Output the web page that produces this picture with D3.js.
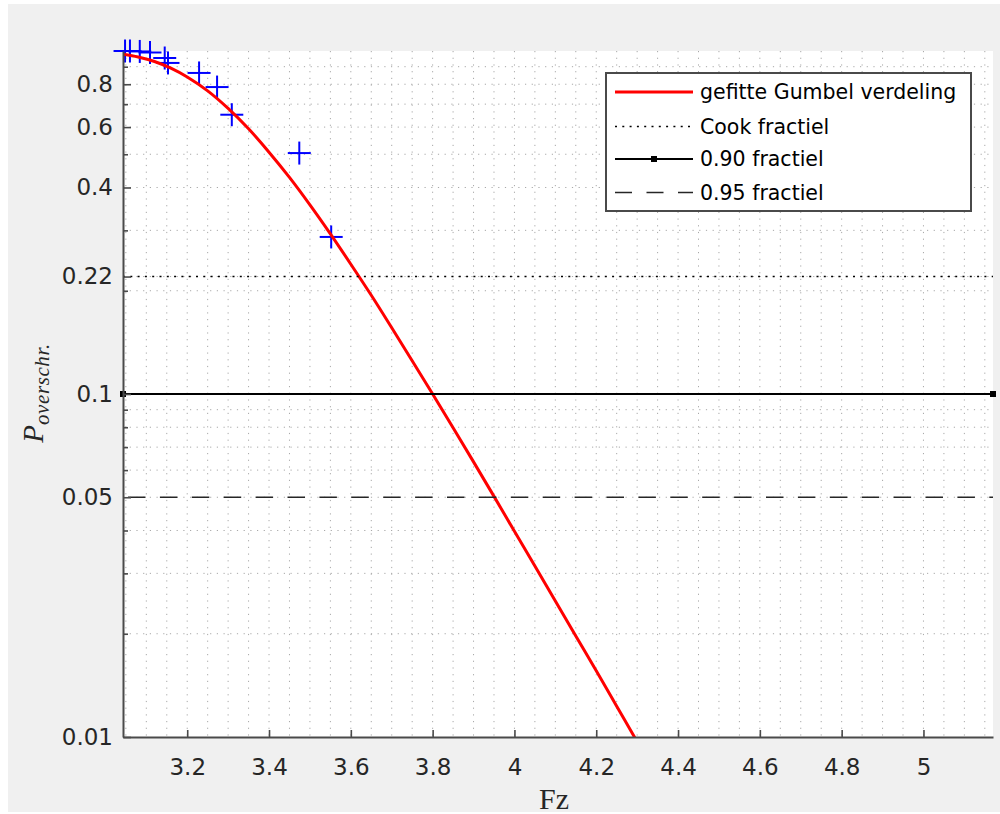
<!DOCTYPE html>
<html>
<head>
<meta charset="utf-8">
<script src="https://cdn.jsdelivr.net/npm/d3@7"></script>
<style>
  html, body { margin: 0; padding: 0; background: #ffffff; }
  svg { display: block; }
</style>
</head>
<body>
<svg id="chart" width="1000" height="814"></svg>
<script>
// Observed maxima (plotted as +)
const obsFz = [3.048, 3.060, 3.084, 3.109, 3.145, 3.153, 3.229, 3.273, 3.309, 3.474, 3.552];
const obsP  = [1.000, 1.000, 0.997, 0.990, 0.954, 0.923, 0.863, 0.785, 0.652, 0.504, 0.287];

// Fitted Gumbel curve (exceedance probability per Fz)
const fitFz = [3.043, 3.08, 3.12, 3.16, 3.20, 3.25, 3.30, 3.35, 3.40, 3.45, 3.50, 3.55, 3.60,
               3.65, 3.70, 3.75, 3.80, 3.85, 3.90, 3.95, 4.00, 4.05, 4.10, 4.15, 4.20, 4.25, 4.30, 4.32];
const fitP  = [0.979, 0.961, 0.932, 0.891, 0.840, 0.765, 0.680, 0.593, 0.507, 0.428, 0.356, 0.293, 0.239,
               0.194, 0.156, 0.125, 0.100, 0.0797, 0.0634, 0.0503, 0.0398, 0.0315, 0.0249, 0.0197, 0.0156, 0.0123, 0.00969, 0.00882];

// Horizontal fractile levels
const levelNames = ["Cook fractiel", "0.90 fractiel", "0.95 fractiel"];
const levelP     = [0.22, 0.1, 0.05];

// Axis limits and ticks
const fzLimits = [3.043, 5.17];
const pLimits  = [0.01, 1];
const fzTicks  = [3.2, 3.4, 3.6, 3.8, 4.0, 4.2, 4.4, 4.6, 4.8, 5.0];
const fzMinorGrid = d3.range(61, 104).map(i => i * 0.05);
const pTicks   = [0.01, 0.05, 0.1, 0.22, 0.4, 0.6, 0.8];
const pMinor   = [0.02, 0.03, 0.04, 0.06, 0.07, 0.08, 0.09, 0.2, 0.3, 0.5, 0.7, 0.9];

const curveLabel = "gefitte Gumbel verdeling";

const svg = d3.select("#chart");
const plot = { left: 123, right: 993, top: 51, bottom: 737 };

// figure background
svg.append("rect").attr("x", 8).attr("y", 4).attr("width", 992).attr("height", 808)
   .attr("fill", "#f0f0f0");

const x = d3.scaleLinear().domain(fzLimits).range([plot.left, plot.right]);
const y = d3.scaleLog().domain(pLimits).range([plot.bottom, plot.top]);

// plot area
svg.append("rect").attr("x", plot.left).attr("y", plot.top)
   .attr("width", plot.right - plot.left).attr("height", plot.bottom - plot.top)
   .attr("fill", "#ffffff");

svg.append("clipPath").attr("id", "plotClip").append("rect")
   .attr("x", plot.left).attr("y", plot.top)
   .attr("width", plot.right - plot.left).attr("height", plot.bottom - plot.top);

// dotted grid
const grid = svg.append("g").attr("stroke", "#a8a8a8").attr("stroke-width", 1)
   .attr("stroke-dasharray", "1.2,5.5").attr("fill", "none");
const vGrid = Array.from(new Set(fzMinorGrid.concat(fzTicks).map(v => +v.toFixed(2))))
   .filter(v => v > fzLimits[0] && v < fzLimits[1]);
grid.selectAll("line.v").data(vGrid).join("line").attr("class", "v")
   .attr("x1", d => x(d)).attr("x2", d => x(d))
   .attr("y1", plot.top).attr("y2", plot.bottom);
const hGrid = pMinor.concat(pTicks).filter(v => v > pLimits[0] && v < pLimits[1]);
grid.selectAll("line.h").data(hGrid).join("line").attr("class", "h")
   .attr("x1", plot.left).attr("x2", plot.right)
   .attr("y1", d => y(d)).attr("y2", d => y(d));

// observed points
const obs = obsFz.map((v, i) => [v, obsP[i]]);
const cross = svg.append("g").attr("stroke", "#0000ff").attr("stroke-width", 2);
obs.forEach(([fz, p]) => {
  const cx = x(fz), cy = y(p);
  cross.append("line").attr("x1", cx - 11.5).attr("x2", cx + 11.5).attr("y1", cy).attr("y2", cy);
  cross.append("line").attr("x1", cx).attr("x2", cx).attr("y1", cy - 11.5).attr("y2", cy + 11.5);
});

// fitted curve
const fit = fitFz.map((v, i) => [v, fitP[i]]);
svg.append("path").datum(fit)
   .attr("clip-path", "url(#plotClip)")
   .attr("fill", "none").attr("stroke", "#ff0000").attr("stroke-width", 3)
   .attr("d", d3.line().x(d => x(d[0])).y(d => y(d[1])).curve(d3.curveMonotoneX));

// fractile lines
const levelStyle = [
  { dash: "2,5.3", width: 1.4, dot: false },
  { dash: null, width: 2, dot: true },
  { dash: "17.5,14.4", width: 1.4, dot: false }
];
levelP.forEach((p, i) => {
  const st = levelStyle[i];
  const ln = svg.append("line")
    .attr("x1", x(fzLimits[0])).attr("x2", x(fzLimits[1]))
    .attr("y1", y(p)).attr("y2", y(p))
    .attr("stroke", i === 2 ? "#262626" : "#000000").attr("stroke-width", st.width);
  if (st.dash) ln.attr("stroke-dasharray", st.dash).attr("stroke-dashoffset", i === 2 ? 26.9 : 0);
  if (st.dot) {
    [fzLimits[0], fzLimits[1]].forEach(fz => {
      svg.append("rect").attr("x", x(fz) - 3).attr("y", y(p) - 3)
         .attr("width", 6).attr("height", 6).attr("fill", "#000");
    });
  }
});

// axes
const axisColor = "#4a4a4a";
const tickFont = "'DejaVu Sans', sans-serif";

const yAxis = svg.append("g").attr("transform", `translate(${plot.left},0)`)
  .call(d3.axisLeft(y).tickValues(pTicks).tickFormat(d => String(d))
        .tickSizeInner(-8).tickSizeOuter(0).tickPadding(10));
const yMinor = svg.append("g").attr("transform", `translate(${plot.left},0)`)
  .call(d3.axisLeft(y).tickValues(pMinor).tickFormat("").tickSizeInner(-5).tickSizeOuter(0));
yMinor.select(".domain").remove();

const xAxis = svg.append("g").attr("transform", `translate(0,${plot.bottom})`)
  .call(d3.axisBottom(x).tickValues(fzTicks).tickFormat(d => String(+d.toFixed(1)))
        .tickSizeInner(-7).tickSizeOuter(0).tickPadding(22));

[yAxis, yMinor, xAxis].forEach(g => {
  g.selectAll(".domain").attr("stroke", axisColor).attr("stroke-width", 2);
  g.selectAll(".tick line").attr("stroke", axisColor).attr("stroke-width", 1.6);
  g.selectAll(".tick text").attr("fill", "#262626")
   .style("font-family", tickFont).style("font-size", "23px");
});

// axis labels
svg.append("text")
   .attr("x", 554).attr("y", 809).attr("text-anchor", "middle")
   .style("font-family", "'Liberation Serif', 'Times New Roman', serif")
   .style("font-size", "30px").attr("fill", "#262626")
   .text("Fz");

const yl = svg.append("text")
   .attr("transform", "translate(43,393) rotate(-90)")
   .attr("text-anchor", "middle")
   .style("font-family", "'Liberation Serif', 'Times New Roman', serif")
   .style("font-style", "italic").attr("fill", "#262626");
yl.append("tspan").style("font-size", "29px").text("P");
yl.append("tspan").attr("dy", 6).style("font-size", "21px")
  .style("letter-spacing", "0.6px").text("overschr.");

// legend
const lg = svg.append("g");
lg.append("rect").attr("x", 606).attr("y", 73).attr("width", 365).attr("height", 138)
  .attr("fill", "#ffffff").attr("stroke", "#4a4a4a").attr("stroke-width", 2);
const rowY = [92, 126.5, 159, 192.5];
const legendItems = [
  { label: curveLabel, color: "#ff0000", width: 3, dash: null, dot: false },
  { label: levelNames[0], color: "#000", width: 1.4, dash: "2,5.3", dot: false },
  { label: levelNames[1], color: "#000", width: 2, dash: null, dot: true },
  { label: levelNames[2], color: "#262626", width: 1.4, dash: "17,14.5", dot: false }
];
legendItems.forEach((it, i) => {
  const ly = rowY[i];
  const l = lg.append("line").attr("x1", 615).attr("x2", 693).attr("y1", ly).attr("y2", ly)
    .attr("stroke", it.color).attr("stroke-width", it.width);
  if (it.dash) l.attr("stroke-dasharray", it.dash);
  if (it.dot) lg.append("rect").attr("x", 651).attr("y", ly - 3).attr("width", 6).attr("height", 6).attr("fill", "#000");
  lg.append("text").attr("x", 700).attr("y", ly).attr("dy", "0.36em")
    .style("font-family", tickFont).style("font-size", "20.5px").attr("fill", "#000")
    .text(it.label);
});
</script>
</body>
</html>
